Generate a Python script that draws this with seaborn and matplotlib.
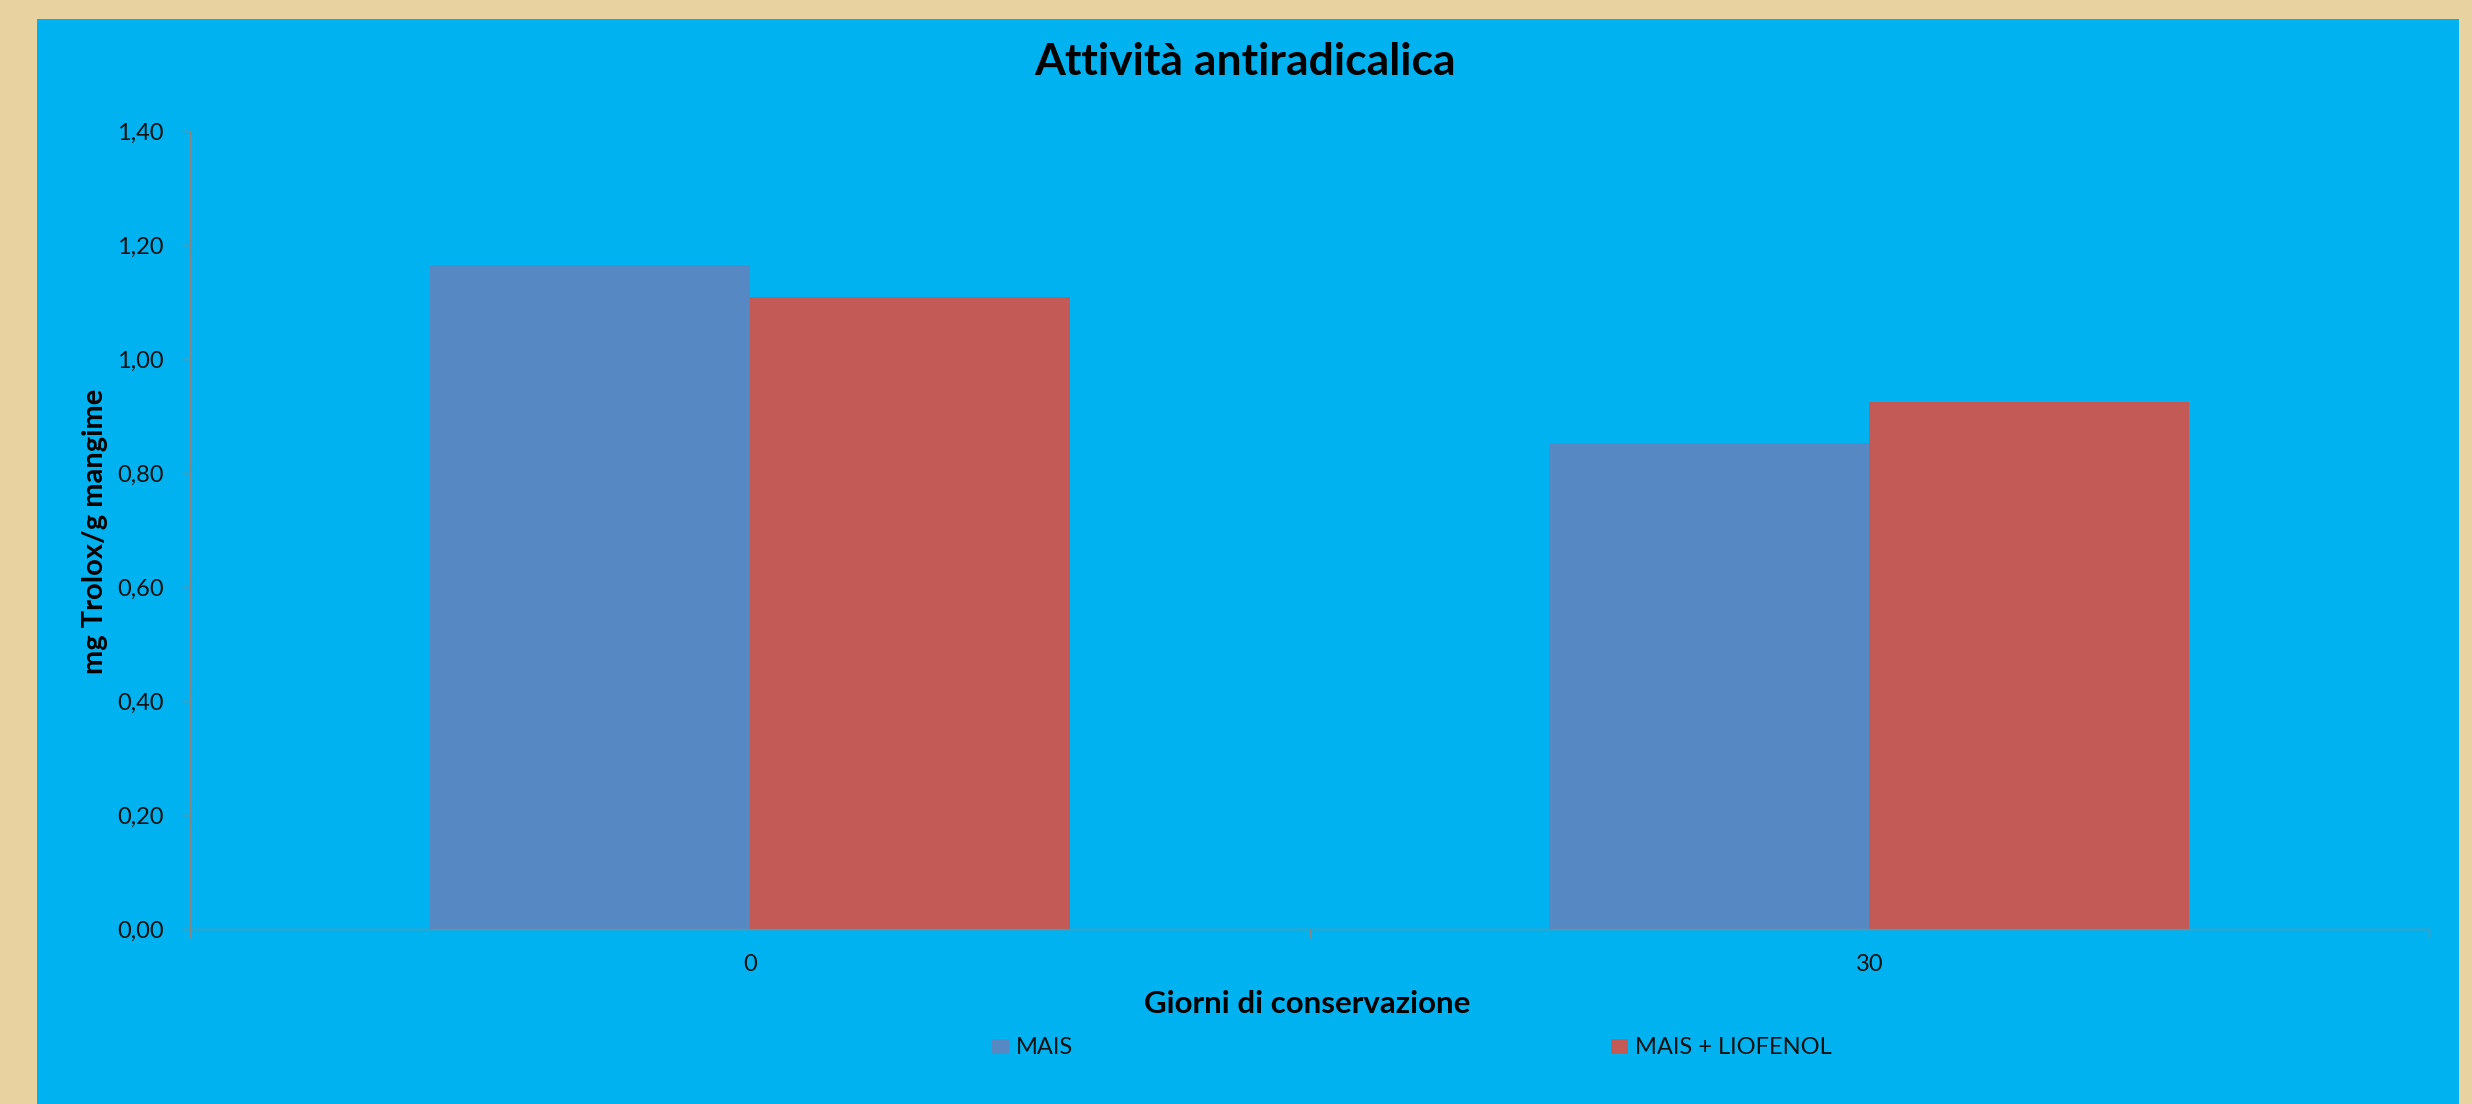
import matplotlib
matplotlib.use("Agg")
import matplotlib.pyplot as plt
import matplotlib.patches as mpatches
import seaborn as sns
import pandas as pd

# ---- data ----
days = ["0", "30"]
series_names = ["MAIS", "MAIS + LIOFENOL"]
mais = [1.165, 0.853]
mais_liofenol = [1.109, 0.925]
yticks = [0.0, 0.2, 0.4, 0.6, 0.8, 1.0, 1.2, 1.4]
ytick_labels = ["0,00", "0,20", "0,40", "0,60", "0,80", "1,00", "1,20", "1,40"]

df = pd.DataFrame({
    "giorni": days * 2,
    "serie": [series_names[0]] * len(days) + [series_names[1]] * len(days),
    "valore": mais + mais_liofenol,
})

sns.set_theme(style="white")
plt.rcParams["font.family"] = ["Lato", "DejaVu Sans"]

W, H = 2472, 1104
fig = plt.figure(figsize=(W / 100, H / 100), dpi=100)
fig.patch.set_facecolor("#E8D3A0")

# cyan chart area
panel = mpatches.Rectangle((37 / W, 0), (2459 - 37) / W, (H - 19) / H,
                           transform=fig.transFigure, facecolor="#00B3F0",
                           edgecolor="none", zorder=-10)
fig.patches.append(panel)

ax = fig.add_axes([190 / W, (H - 929) / H, (2429 - 190) / W, (929 - 131) / H])
ax.set_facecolor("none")
ax.set_zorder(5)

palette = {series_names[0]: "#5688C3", series_names[1]: "#C45A56"}
sns.barplot(data=df, x="giorni", y="valore", hue="serie", order=days,
            hue_order=series_names, palette=palette, width=0.572, gap=0,
            saturation=1, linewidth=0, ax=ax)

ax.set_xlim(-0.5, 1.5)
ax.set_ylim(0, 1.4)
ax.set_yticks(yticks)
ax.set_yticklabels(ytick_labels)

grey = "#868686"
for s in ["top", "right"]:
    ax.spines[s].set_visible(False)
for s in ["left", "bottom"]:
    ax.spines[s].set_color(grey)
    ax.spines[s].set_linewidth(1.0)

ax.tick_params(axis="y", which="major", direction="out", length=6, width=1,
               color=grey, left=True, pad=13, labelsize=17, labelcolor="#111111")
ax.tick_params(axis="x", which="major", length=0, pad=18, labelsize=17,
               labelcolor="#111111")
ax.set_xticks([-0.5, 0.5, 1.5], minor=True)
ax.tick_params(axis="x", which="minor", direction="out", length=6.5, width=1,
               color=grey, bottom=True)

ax.set_xlabel("Giorni di conservazione", fontsize=22.5, fontweight="bold",
              color="black")
ax.xaxis.label.set_va("center")
ax.xaxis.set_label_coords((1307 - 190) / 2239, (929 - 1004) / 798)

ax.set_ylabel("mg Trolox/g mangime", fontsize=21, fontweight="bold",
              color="black")
ax.yaxis.label.set_va("center")
ax.yaxis.set_label_coords((95 - 190) / 2239, (929 - 531) / 798)

ax.set_title("Attività antiradicalica", fontsize=32, fontweight="bold",
             color="black", x=(1245 - 190) / 2239, y=(929 - 70) / 798,
             va="center")

handles, labels = ax.get_legend_handles_labels()
ax.get_legend().remove()
leg = fig.legend(handles, labels, loc="center", bbox_to_anchor=(1412 / W, 56 / H),
                 ncol=2, frameon=False, fontsize=17, handlelength=0.7,
                 handleheight=0.6, handletextpad=0.3, columnspacing=22.8,
                 labelcolor="#111111")
leg.set_zorder(6)

fig.savefig("out.png", dpi=100, facecolor=fig.get_facecolor())
